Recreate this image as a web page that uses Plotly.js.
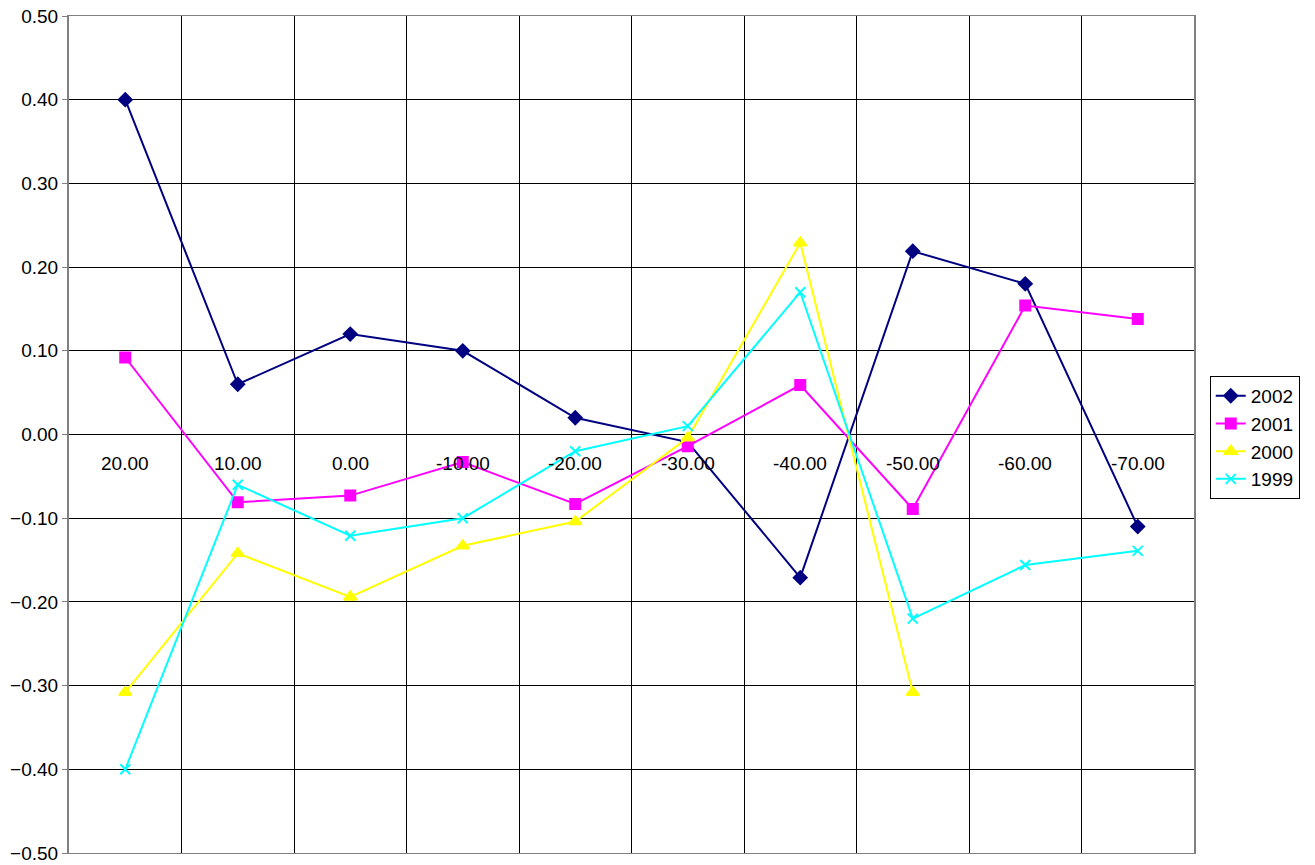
<!DOCTYPE html>
<html>
<head>
<meta charset="utf-8">
<script src="https://cdn.plot.ly/plotly-3.0.1.min.js"></script>
<style>html,body{margin:0;padding:0;background:#fff}#chart{width:1315px;height:865px}</style>
</head>
<body>
<div id="chart"></div>
<script>
const categories = ["20.00","10.00","0.00","-10.00","-20.00","-30.00","-40.00","-50.00","-60.00","-70.00"];
const s2002 = [0.40, 0.06, 0.12, 0.10, 0.02, -0.009, -0.171, 0.219, 0.18, -0.11];
const s2001 = [0.092, -0.081, -0.073, -0.033, -0.083, -0.014, 0.059, -0.089, 0.154, 0.138];
const s2000 = [-0.308, -0.142, -0.194, -0.133, -0.104, -0.004, 0.229, -0.308, null, null];
const s1999 = [-0.40, -0.06, -0.121, -0.10, -0.02, 0.01, 0.17, -0.22, -0.156, -0.139];
const yTicks = [0.5,0.4,0.3,0.2,0.1,0,-0.1,-0.2,-0.3,-0.4,-0.5];

const FONT = "Liberation Sans, Arial, sans-serif";
const FS = 19;
const traces = [
  {name:"2002", y:s2002, color:"#000080", symbol:"diamond", size:10},
  {name:"2001", y:s2001, color:"#FF00FF", symbol:"square", size:10},
  {name:"2000", y:s2000, color:"#FFFF00", symbol:"triangle-up", size:11},
  {name:"1999", y:s1999, color:"#00FFFF", symbol:"x-thin-open", size:10}
].map(t => ({
  type:"scatter", mode:"lines+markers", name:t.name, x:categories, y:t.y,
  connectgaps:false,
  line:{color:t.color, width:2},
  marker:{color:t.color, symbol:t.symbol, size:t.size, line:{color:t.color, width:2}}
}));

const annotations = categories.map((c, i) => ({
  x:i, y:0, xref:"x", yref:"y", text:c, showarrow:false,
  yanchor:"middle", yshift:-29, font:{family:FONT, size:FS, color:"#000"}
}));

const layout = {
  width:1315, height:865,
  margin:{l:69, r:121, t:16, b:12},
  paper_bgcolor:"#fff", plot_bgcolor:"#fff",
  font:{family:FONT, size:FS, color:"#000"},
  showlegend:true,
  legend:{x:1.014, y:0.570, xanchor:"left", yanchor:"top",
    bordercolor:"#000", borderwidth:1, bgcolor:"#fff",
    font:{family:FONT, size:FS}, tracegroupgap:0},
  xaxis:{type:"category", range:[-0.5, 9.5], showticklabels:false,
    tickson:"boundaries", showgrid:true, gridcolor:"#000", gridwidth:1,
    zeroline:false, showline:true, linecolor:"#808080", mirror:true, ticks:""},
  yaxis:{range:[-0.5, 0.5], tickvals:yTicks, tickformat:".2f",
    showgrid:true, gridcolor:"#000", gridwidth:1,
    zeroline:true, zerolinecolor:"#000", zerolinewidth:1,
    showline:true, linecolor:"#808080", linewidth:2, mirror:true,
    ticks:"outside", ticklen:5, tickcolor:"#808080",
    tickfont:{family:FONT, size:FS}},
  annotations: annotations
};

Plotly.newPlot("chart", traces, layout, {displayModeBar:false, staticPlot:true});
</script>
</body>
</html>
